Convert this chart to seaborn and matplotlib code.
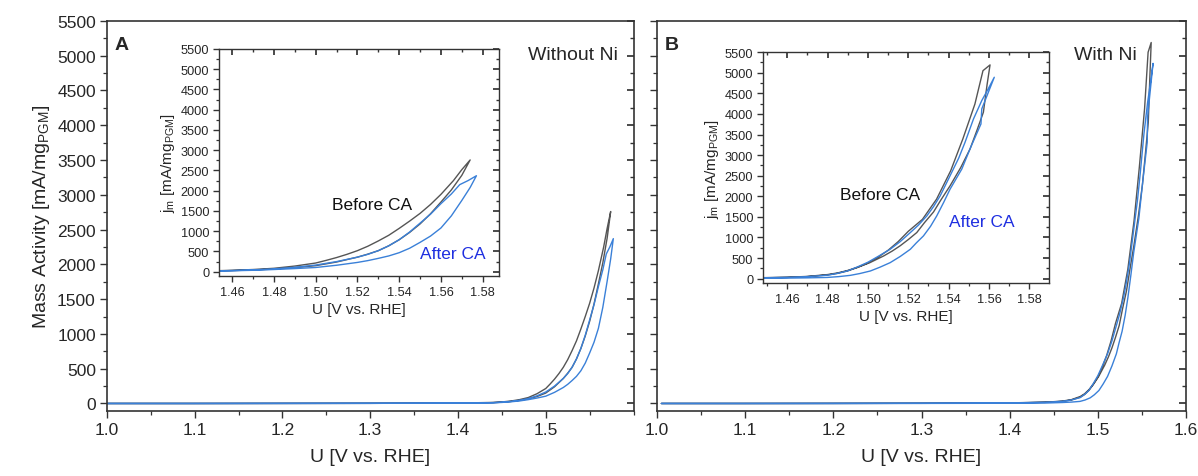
import matplotlib
matplotlib.use("Agg")
import matplotlib.pyplot as plt
from matplotlib.ticker import MultipleLocator, NullFormatter, FixedLocator
import numpy as np
import seaborn as sns

# potential (V vs. RHE) and mass activity (mA/mg_PGM), each CV loop as one path
A_BEFORE_U = [1.00, 1.10, 1.20, 1.30, 1.40, 1.44, 1.45, 1.46, 1.47, 1.48, 1.49, 1.50, 1.51, 1.52, 1.525, 1.53,
              1.535, 1.54, 1.545, 1.55, 1.555, 1.56, 1.565, 1.57, 1.574,
              1.570, 1.566, 1.56, 1.555, 1.55, 1.545, 1.54, 1.535, 1.53, 1.525, 1.52, 1.515, 1.51, 1.505, 1.50,
              1.49, 1.48, 1.47, 1.46, 1.45, 1.44, 1.40, 1.30, 1.20, 1.10, 1.00]
A_BEFORE_J = [0, 0, 1, 2, 5, 12, 18, 28, 44, 65, 100, 150, 240, 360, 435, 520,
              640, 790, 970, 1180, 1430, 1720, 2020, 2380, 2760,
              2520, 2250, 1910, 1660, 1440, 1250, 1070, 900, 760, 630, 520, 430, 350, 280, 215,
              140, 85, 55, 35, 22, 15, 6, 2, 1, 0, 0]

A_AFTER_U = [1.00, 1.10, 1.20, 1.30, 1.40, 1.44, 1.45, 1.46, 1.47, 1.48, 1.49, 1.50, 1.51, 1.52, 1.525, 1.53,
             1.535, 1.54, 1.545, 1.55, 1.555, 1.56, 1.565, 1.57, 1.574, 1.577,
             1.573, 1.569, 1.565, 1.56, 1.555, 1.55, 1.545, 1.54, 1.535, 1.53, 1.525, 1.52, 1.51, 1.50,
             1.49, 1.48, 1.47, 1.46, 1.45, 1.44, 1.40, 1.30, 1.20, 1.10, 1.00]
A_AFTER_J = [0, 0, 1, 2, 4, 10, 15, 24, 36, 55, 78, 105, 160, 230, 275, 330,
             390, 470, 580, 725, 880, 1080, 1380, 1760, 2080, 2370,
             2250, 2150, 1920, 1680, 1420, 1200, 980, 790, 640, 520, 430, 360, 250, 165,
             110, 70, 46, 30, 19, 12, 5, 2, 1, 0, 0]

B_BEFORE_U = [1.005, 1.10, 1.20, 1.30, 1.40, 1.44, 1.45, 1.46, 1.47, 1.48, 1.485, 1.49, 1.495, 1.50, 1.505, 1.51,
              1.515, 1.52, 1.527, 1.534, 1.541, 1.547, 1.553, 1.557, 1.5605,
              1.559, 1.5572, 1.554, 1.5506, 1.546, 1.5407, 1.536, 1.5325, 1.528, 1.5242, 1.520, 1.516, 1.512,
              1.5078, 1.501, 1.4946, 1.49, 1.485, 1.48, 1.47, 1.46, 1.45, 1.44, 1.40, 1.30, 1.20, 1.10, 1.005]
B_BEFORE_J = [0, 0, 1, 3, 8, 20, 26, 35, 55, 100, 140, 200, 280, 380, 520, 690,
              900, 1150, 1440, 1930, 2620, 3390, 4240, 5050, 5190,
              4700, 4040, 3600, 3150, 2700, 2255, 1900, 1620, 1360, 1120, 950, 800, 670,
              552, 390, 268, 190, 130, 90, 50, 30, 22, 16, 6, 2, 1, 0, 0]

B_AFTER_U = [1.005, 1.10, 1.20, 1.30, 1.40, 1.44, 1.45, 1.46, 1.47, 1.48, 1.485, 1.49, 1.495, 1.50, 1.505, 1.511,
             1.516, 1.521, 1.525, 1.5292, 1.5325, 1.5358, 1.5385, 1.5415, 1.545, 1.5481, 1.5523, 1.5564, 1.5595,
             1.5626,
             1.5564, 1.5560, 1.551, 1.5465, 1.5407, 1.5375, 1.5341, 1.531, 1.5275, 1.524, 1.521, 1.516, 1.511,
             1.506, 1.5012, 1.496, 1.4913, 1.4855, 1.4798, 1.47, 1.46, 1.45, 1.44, 1.40, 1.30, 1.20, 1.10, 1.005]
B_AFTER_J = [0, 0, 1, 3, 7, 18, 24, 32, 50, 85, 130, 190, 290, 400, 540, 714,
             900, 1120, 1300, 1525, 1750, 2012, 2280, 2580, 2930, 3310, 3878, 4324, 4600,
             4890,
             4121, 3756, 3200, 2661, 2174, 1850, 1525, 1270, 1038, 870, 714, 540, 389,
             280, 187, 125, 81, 50, 30, 20, 14, 10, 6, 3, 1, 0, 0, 0]

Y_TICKS = list(range(0, 5501, 500))
MAIN_X_TICKS = [1.0, 1.1, 1.2, 1.3, 1.4, 1.5, 1.6]
INSET_X_TICKS = [1.46, 1.48, 1.50, 1.52, 1.54, 1.56, 1.58]

BLACK = "#555555"
BLUE = "#3a80d8"
TEXT_BLUE = "#1f2fe0"

sns.set_theme(style="ticks")
plt.rcParams["font.family"] = ["Liberation Sans", "DejaVu Sans"]
plt.rcParams["mathtext.fontset"] = "custom"
plt.rcParams["mathtext.rm"] = "Liberation Sans"
plt.rcParams["mathtext.it"] = "Liberation Sans:italic"
plt.rcParams["axes.edgecolor"] = "#333333"

fig = plt.figure(figsize=(11.98, 4.77), dpi=100)


def style_axes(ax, big):
    ax.tick_params(which="both", direction="out", top=False, right=False, color="#333333")
    ax.tick_params(which="major", length=5 if big else 4, width=1.0,
                   labelsize=12.5 if big else 9.2, pad=3)
    ax.tick_params(which="minor", length=3 if big else 2.5, width=0.9)
    for s in ax.spines.values():
        s.set_linewidth(1.2 if big else 1.0)
    # mirrored inward ticks on the right (and top for the inset)
    sec = ax.secondary_yaxis("right")
    sec.yaxis.set_major_locator(FixedLocator(Y_TICKS))
    sec.yaxis.set_minor_locator(MultipleLocator(250))
    sec.tick_params(which="both", direction="in", labelright=False, color="#333333")
    sec.tick_params(which="major", length=5 if big else 4)
    sec.tick_params(which="minor", length=3 if big else 2.5)
    sec.spines["right"].set_visible(False)
    if not big:
        sect = ax.secondary_xaxis("top")
        sect.xaxis.set_major_locator(FixedLocator(INSET_X_TICKS))
        sect.xaxis.set_minor_locator(MultipleLocator(0.01))
        sect.tick_params(which="both", direction="in", labeltop=False, color="#333333")
        sect.tick_params(which="major", length=4)
        sect.tick_params(which="minor", length=2.5)
        sect.spines["top"].set_visible(False)


def draw(ax, ub, jb, ua, ja, lw):
    sns.lineplot(x=ub, y=jb, sort=False, estimator=None, color=BLACK, lw=lw, ax=ax)
    sns.lineplot(x=ua, y=ja, sort=False, estimator=None, color=BLUE, lw=lw, ax=ax)


panels = [
    (0.0893, A_BEFORE_U, A_BEFORE_J, A_AFTER_U, A_AFTER_J, "A", "Without Ni", 0.971),
    (0.5484, B_BEFORE_U, B_BEFORE_J, B_AFTER_U, B_AFTER_J, "B", "With Ni", 0.907),
]
for i, (left, ub, jb, ua, ja, tag, title, tx) in enumerate(panels):
    ax = fig.add_axes([left, 0.136, 0.4395 if i == 0 else 0.4416, 0.818])
    draw(ax, ub, jb, ua, ja, 1.0)
    ax.set_xlim(1.0, 1.6)
    ax.set_ylim(-110, 5500)
    ax.xaxis.set_major_locator(FixedLocator(MAIN_X_TICKS))
    ax.xaxis.set_minor_locator(MultipleLocator(0.05))
    ax.yaxis.set_major_locator(FixedLocator(Y_TICKS))
    ax.yaxis.set_minor_locator(MultipleLocator(250))
    if i == 0:
        ax.set_xticks(MAIN_X_TICKS[:-1])
        ax.set_xticklabels(["1.0", "1.1", "1.2", "1.3", "1.4", "1.5"])
        ax.set_ylabel(r"Mass Activity [mA/mg$_{\mathrm{PGM}}$]", fontsize=14, labelpad=4)
    else:
        ax.set_xticklabels(["1.0", "1.1", "1.2", "1.3", "1.4", "1.5", "1.6"])
        ax.yaxis.set_major_formatter(NullFormatter())
        ax.set_ylabel("")
    ax.set_xlabel("U [V vs. RHE]", fontsize=14, labelpad=8)
    style_axes(ax, True)
    ax.text(0.015, 0.94, tag, transform=ax.transAxes, fontsize=14, fontweight="bold",
            ha="left", va="center")
    ax.text(tx, 0.915, title, transform=ax.transAxes, fontsize=14, ha="right", va="center")

insets = [
    ([0.1828, 0.4193, 0.2337, 0.476], (1.4537, 1.5878), A_BEFORE_U, A_BEFORE_J, A_AFTER_U, A_AFTER_J,
     (0.546, 0.317), (0.836, 0.097)),
    ([0.6369, 0.4046, 0.2387, 0.484], (1.448, 1.5897), B_BEFORE_U, B_BEFORE_J, B_AFTER_U, B_AFTER_J,
     (0.409, 0.385), (0.766, 0.268)),
]
for rect, xl, ub, jb, ua, ja, pb, pa in insets:
    ax = fig.add_axes(rect)
    draw(ax, ub, jb, ua, ja, 1.0)
    ax.set_xlim(*xl)
    ax.set_ylim(-105, 5500)
    ax.xaxis.set_major_locator(FixedLocator(INSET_X_TICKS))
    ax.xaxis.set_minor_locator(MultipleLocator(0.01))
    ax.yaxis.set_major_locator(FixedLocator(Y_TICKS))
    ax.yaxis.set_minor_locator(MultipleLocator(250))
    ax.set_xticklabels([f"{v:.2f}" for v in INSET_X_TICKS])
    ax.set_xlabel("U [V vs. RHE]", fontsize=11, labelpad=3)
    ax.set_ylabel(r"j$_{\mathrm{m}}$ [mA/mg$_{\mathrm{PGM}}$]", fontsize=11, labelpad=3)
    style_axes(ax, False)
    ax.text(*pb, "Before CA", transform=ax.transAxes, fontsize=12.5, ha="center", va="center",
            color="#111111")
    ax.text(*pa, "After CA", transform=ax.transAxes, fontsize=12.5, ha="center", va="center",
            color=TEXT_BLUE)

fig.savefig("out.png", dpi=100)
